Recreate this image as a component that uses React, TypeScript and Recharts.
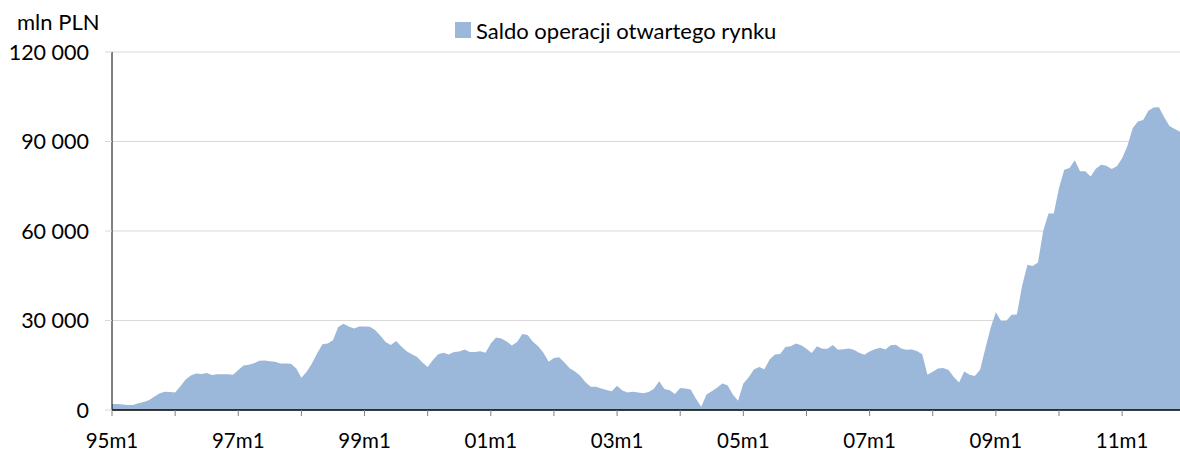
import React from 'react';
import { AreaChart, Area, XAxis, YAxis, CartesianGrid, Legend } from 'recharts';

const FONT = 'Lato, "Open Sans", sans-serif';
const FILL = '#9BB7D9';
const SERIES_NAME = 'Saldo operacji otwartego rynku';
const UNIT_LABEL = 'mln PLN';

const years = ['95', '96', '97', '98', '99', '00', '01', '02', '03', '04', '05', '06', '07', '08', '09', '10', '11'];
const months = [1, 2, 3, 4, 5, 6, 7, 8, 9, 10, 11, 12];
const categories = years.flatMap((y) => months.map((m) => `${y}m${m}`));

// monthly values, mln PLN (95m1 .. 11m12)
const saldo = [
  2000, 2000, 1850, 1700, 1650, 2300, 2700, 3300, 4400, 5500, 6100, 6000,
  5900, 8000, 10200, 11600, 12200, 12100, 12400, 11700, 12000, 12000, 12000, 11800,
  13400, 14900, 15200, 15700, 16500, 16600, 16300, 16200, 15600, 15600, 15500, 14000,
  10800, 12800, 15600, 19000, 22000, 22300, 23400, 27800, 28900, 28000, 27300, 28000,
  28000, 27900, 26800, 25000, 22800, 21800, 23100, 21300, 19700, 18700, 17800, 15900,
  14400, 16800, 18700, 19200, 18600, 19400, 19600, 20300, 19400, 19400, 19700, 19200,
  22300, 24300, 24000, 23000, 21600, 22800, 25500, 25100, 22900, 21400, 19200, 16200,
  17400, 17700, 15900, 14000, 12900, 11500, 9300, 7800, 7800, 7200, 6700, 6300,
  8100, 6500, 5900, 6100, 5900, 5600, 6000, 7100, 9600, 7000, 6600, 5400,
  7400, 7200, 6900, 3800, 1100, 5200, 6300, 7500, 8900, 8300, 5200, 3100,
  8900, 10900, 13600, 14400, 13700, 16900, 18600, 18800, 21100, 21400, 22300, 21700,
  20500, 19100, 21400, 20500, 20500, 21800, 20200, 20400, 20600, 20200, 19200, 18500,
  19600, 20400, 20900, 20300, 21700, 21900, 20600, 20200, 20300, 19800, 18700, 11800,
  12800, 13900, 14100, 13400, 11100, 9200, 12900, 11800, 11400, 13500, 20600, 27500,
  32800, 29800, 29900, 31900, 32000, 41700, 48700, 48300, 49400, 60000, 65900, 65900,
  74400, 80500, 81100, 83700, 80000, 80000, 78300, 80900, 82200, 81900, 80800, 81700,
  84400, 88500, 94400, 96700, 97200, 100300, 101400, 101500, 98100, 95200, 94200, 93300,
];

const yearTicks = years.map((y) => `${y}m1`);
const xTickLabels = ['95m1', '97m1', '99m1', '01m1', '03m1', '05m1', '07m1', '09m1', '11m1'];
const yTicks = [0, 30000, 60000, 90000, 120000];

const data = categories.map((month, i) => ({ month, saldo: saldo[i] }));

const fmt = (n: number) => String(n).replace(/\B(?=(\d{3})+(?!\d))/g, ' ');

const XTick = (props: any) => {
  const { x, y, payload } = props;
  if (!xTickLabels.includes(payload.value)) return null;
  return (
    <text x={x} y={y} dy={30} textAnchor="middle" fill="#000" fontSize={20.5} fontFamily={FONT}>
      {payload.value}
    </text>
  );
};

const UnitLabel = (props: any) => {
  const vb = props.viewBox || { x: 0, y: 52 };
  return (
    <text x={vb.x + 17} y={vb.y - 22} fill="#000" fontSize={22} fontFamily={FONT}>
      {UNIT_LABEL}
    </text>
  );
};

const LegendContent = () => (
  <div style={{ display: 'flex', alignItems: 'center', fontFamily: FONT, fontSize: 22, color: '#000', whiteSpace: 'nowrap', height: 24 }}>
    <span style={{ display: 'inline-block', width: 16, height: 16, background: FILL, marginRight: 5 }} />
    <span>{SERIES_NAME}</span>
  </div>
);

export default function App() {
  return (
    <div style={{ position: 'absolute', left: 0, top: 0, width: 1180, height: 451, background: '#fff' }}>
      <AreaChart width={1180} height={451} data={data} margin={{ top: 52, right: 0, bottom: 0, left: 0 }}>
        <CartesianGrid horizontal vertical={false} stroke="#D9D9D9" strokeWidth={1} />
        <XAxis
          dataKey="month"
          ticks={yearTicks}
          interval={0}
          height={41}
          tickSize={6}
          tickLine={{ stroke: '#7F7F7F' }}
          axisLine={{ stroke: '#000', strokeWidth: 1.5 }}
          tick={<XTick />}
        />
        <YAxis
          width={112}
          domain={[0, 120000]}
          ticks={yTicks}
          interval={0}
          tickFormatter={fmt}
          tickSize={7}
          tickMargin={16}
          tickLine={{ stroke: '#D9D9D9' }}
          axisLine={{ stroke: '#000' }}
          tick={{ fill: '#000', fontSize: 21.5, fontFamily: FONT }}
          label={{ content: <UnitLabel /> }}
        />
        <Legend verticalAlign="middle" content={<LegendContent />} wrapperStyle={{ top: 18, left: 455, width: 380, height: 24 }} />
        <Area
          type="linear"
          dataKey="saldo"
          name={SERIES_NAME}
          stroke="none"
          fill={FILL}
          fillOpacity={1}
          isAnimationActive={false}
        />
      </AreaChart>
    </div>
  );
}
